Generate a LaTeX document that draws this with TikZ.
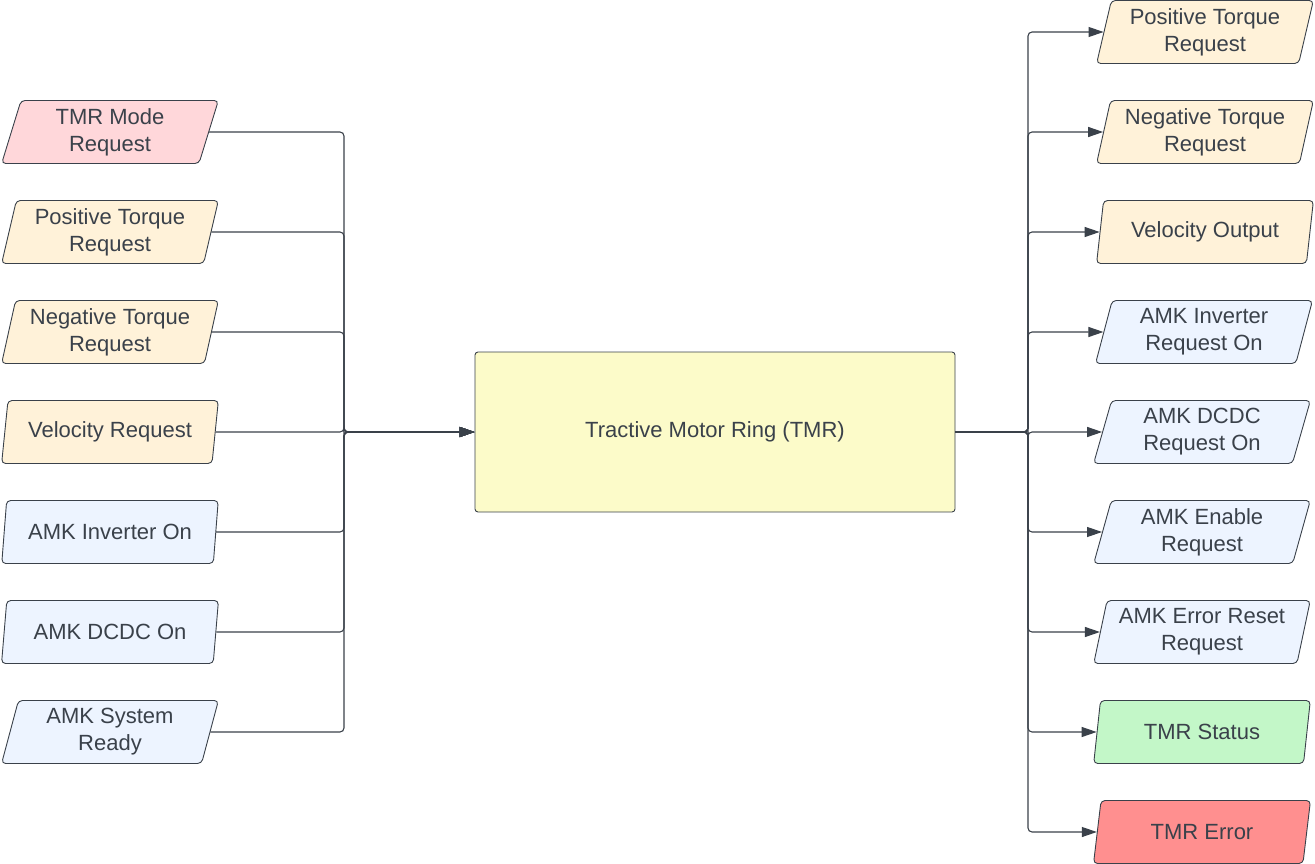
\documentclass[tikz,border=0pt]{standalone}
\usepackage{fontspec}
\setmainfont{Liberation Sans}
\usetikzlibrary{shapes.geometric,arrows.meta}
\definecolor{linegray}{HTML}{3A414A}
\definecolor{textgray}{HTML}{3A414A}
\definecolor{fillpink}{HTML}{FFD7DA}
\definecolor{fillorange}{HTML}{FFF2D9}
\definecolor{fillblue}{HTML}{EDF4FF}
\definecolor{fillgreen}{HTML}{C3F7C8}
\definecolor{fillred}{HTML}{FF8F8F}
\definecolor{fillyellow}{HTML}{FCFBC9}
\begin{document}
\begin{tikzpicture}[x=1pt,y=-1pt]
% Estilos
\tikzset{
  io/.style={trapezium, trapezium left angle=76, trapezium right angle=104, trapezium stretches=true, draw=linegray, line width=0.9pt, rounded corners=4pt, minimum width=217pt, minimum height=63pt, inner sep=0pt, align=center, text=textgray, font=\fontsize{22}{27}\selectfont},
  mode/.style={io, fill=fillpink},
  torque/.style={io, fill=fillorange},
  amk/.style={io, fill=fillblue},
  status/.style={io, fill=fillgreen},
  fault/.style={io, fill=fillred},
  process/.style={rectangle, draw=linegray, line width=0.9pt, rounded corners=3pt, fill=fillyellow, minimum width=480pt, minimum height=160pt, text=textgray, font=\fontsize{22}{27}\selectfont},
  conn/.style={draw=linegray, line width=1.1pt, rounded corners=4pt, -{Triangle[length=15pt,width=10pt]}}
}
\useasboundingbox (0,0) rectangle (1315,864);

% Bloco central
\node[process] (tmr) at (715,432) {Tractive Motor Ring (TMR)};

% Entradas
\node[mode] (tmr_mode_in) at (110,132) {TMR Mode\\Request};
\node[torque] (pos_torque_in) at (110,232) {Positive Torque\\Request};
\node[torque] (neg_torque_in) at (110,332) {Negative Torque\\Request};
\node[torque] (velocity_in) at (110,432) {Velocity Request};
\node[amk] (inverter_on_in) at (110,532) {AMK Inverter On};
\node[amk] (dcdc_on_in) at (110,632) {AMK DCDC On};
\node[amk] (system_ready_in) at (110,732) {AMK System\\Ready};

% Saídas
\node[torque] (pos_torque_out) at (1205,32) {Positive Torque\\Request};
\node[torque] (neg_torque_out) at (1205,132) {Negative Torque\\Request};
\node[torque] (velocity_out) at (1205,232) {Velocity Output};
\node[amk] (inverter_req_out) at (1204,332) {AMK Inverter\\Request On};
\node[amk] (dcdc_req_out) at (1202,432) {AMK DCDC\\Request On};
\node[amk] (enable_req_out) at (1202,532) {AMK Enable\\Request};
\node[amk] (error_reset_out) at (1202,632) {AMK Error Reset\\Request};
\node[status] (tmr_status_out) at (1202,732) {TMR Status};
\node[fault] (tmr_error_out) at (1202,832) {TMR Error};

% Barramentos
\coordinate (in_bus) at (344,432);
\coordinate (out_bus) at (1028,432);

% Ligações de entrada
\foreach \src in {tmr_mode_in,pos_torque_in,neg_torque_in,velocity_in,inverter_on_in,dcdc_on_in,system_ready_in}
  \draw[conn] (\src.east) -| (in_bus) -- (tmr.west);

% Ligações de saída
\foreach \dst in {pos_torque_out,neg_torque_out,velocity_out,inverter_req_out,dcdc_req_out,enable_req_out,error_reset_out,tmr_status_out,tmr_error_out}
  \draw[conn] (tmr.east) -- (out_bus) |- (\dst.west);

\end{tikzpicture}
\end{document}
